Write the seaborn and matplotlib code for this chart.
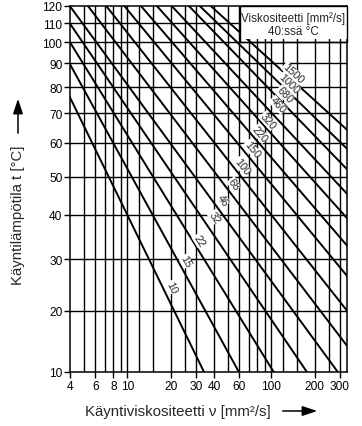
import numpy as np
import pandas as pd
import matplotlib
matplotlib.use("Agg")
import matplotlib.pyplot as plt
import matplotlib.patches as mpatches
import seaborn as sns

# ISO VG grades (viscosity at 40 C) and their viscosity at 100 C
grades = [10, 15, 22, 32, 46, 68, 100, 150, 220, 320, 460, 680, 1000, 1500]
visc_100 = [2.6, 3.3, 4.0, 4.9, 6.1, 8.3, 11.3, 15.4, 20.5, 27, 35, 47, 58, 72]
temp_ref = [40, 100]
# where each grade label sits (viscosity, temperature)
label_visc = [20.3, 25.5, 31.4, 40.3, 46.2, 55.0, 62.6, 73.4, 83.4, 94.8, 111.3, 124.5, 132.7, 141.5]
label_temp = [24.4, 29.6, 34.1, 39.5, 43.7, 47.9, 53.0, 58.1, 62.9, 67.3, 73.1, 77.2, 81.6, 85.8]

x_ticks = [4, 6, 8, 10, 20, 30, 40, 60, 100, 200, 300]
x_grid = [5, 6, 7, 8, 9, 10, 12, 15, 20, 25, 30, 40, 50, 60, 70, 80, 90, 100, 120, 150, 200, 250, 300]
y_ticks = [10, 20, 30, 40, 50, 60, 70, 80, 90, 100, 110, 120]

sns.set_theme(style="white")
plt.rcParams['font.family'] = ['Liberation Sans', 'DejaVu Sans']

fig = plt.figure(figsize=(3.62, 4.27), dpi=100)
ax = fig.add_axes([70/362, 1-372.7/427, (346.7-70)/362, (372.7-6.7)/427])

C = 100.0
fwd = lambda t: -1.0/(np.asarray(t, float)+C)
inv = lambda u: -1.0/np.asarray(u, float) - C
ax.set_xscale('log')
ax.set_yscale('function', functions=(fwd, inv))
ax.set_xlim(4, 334)
ax.set_ylim(10, 120)

def visc_at(g, v100, t):
    u1, u2 = fwd(temp_ref[0]), fwd(temp_ref[1])
    l1, l2 = np.log10(g), np.log10(v100)
    return 10**(l1 + (l2-l1)*(fwd(t)-u1)/(u2-u1))

ext = []
for g, v100 in zip(grades, visc_100):
    for t in [0, 200]:
        ext.append(dict(grade=str(g), temp=t, visc=visc_at(g, v100, t)))
ext = pd.DataFrame(ext)

for xv in x_grid:
    ax.axvline(xv, color='black', lw=1.0, zorder=1)
for yv in y_ticks[1:-1]:
    ax.axhline(yv, color='black', lw=1.0, zorder=1)

sns.lineplot(data=ext, x='visc', y='temp', units='grade', estimator=None,
             color='black', lw=1.4, ax=ax, sort=False, zorder=2, legend=False)

ax.set_xticks(x_ticks)
ax.set_xticklabels([str(v) for v in x_ticks])
ax.xaxis.set_minor_locator(matplotlib.ticker.NullLocator())
ax.set_yticks(y_ticks)
ax.set_yticklabels([str(v) for v in y_ticks])
ax.yaxis.set_minor_locator(matplotlib.ticker.NullLocator())
ax.tick_params(axis='both', which='major', length=4, width=1.0, color='black',
               labelsize=8.6, labelcolor='black', direction='out',
               bottom=True, left=True)
ax.tick_params(axis='x', pad=2)
ax.tick_params(axis='y', pad=1.5)
for s in ax.spines.values():
    s.set_color('black'); s.set_linewidth(1.1)
ax.set_xlabel(''); ax.set_ylabel('')

# grade labels beside their lines
for g, v100, lv, lt in zip(grades, visc_100, label_visc, label_temp):
    p1 = ax.transData.transform((visc_at(g, v100, lt-1), lt-1))
    p2 = ax.transData.transform((visc_at(g, v100, lt+1), lt+1))
    ang = np.degrees(np.arctan2(p2[1]-p1[1], p2[0]-p1[0])) + 180
    ax.text(lv, lt, str(g), rotation=ang, rotation_mode='anchor', ha='center',
            va='center', fontsize=7.8, zorder=3,
            bbox=dict(facecolor='white', edgecolor='none', pad=0.1))

# legend box top-right
bx0 = (240-70)/276.7
by0 = (372.7-43.3)/366
byf = (372.7-39.5)/366
ax.add_patch(mpatches.Rectangle((bx0, byf), 1-bx0, 1-byf, transform=ax.transAxes,
             facecolor='white', edgecolor='none', zorder=4, clip_on=False))
ax.add_patch(mpatches.Rectangle((bx0, by0), 1-bx0, 1-by0, transform=ax.transAxes,
             facecolor='none', edgecolor='black', lw=1.0, zorder=5, clip_on=False))
ax.text((bx0+1)/2, 1-(19-6.7)/366, 'Viskositeetti [mm²/s]', transform=ax.transAxes,
        ha='center', va='center', fontsize=8.4, zorder=6)
ax.text((bx0+1)/2, 1-(32-6.7)/366, '40:ssä °C', transform=ax.transAxes,
        ha='center', va='center', fontsize=8.4, zorder=6)

fig.text(18/362, 1-215/427, 'Käyntilämpötila t [°C]', rotation=90, fontsize=10.8,
         ha='center', va='center')
fig.text(178/362, 1-412/427, 'Käyntiviskositeetti ν [mm²/s]', fontsize=10.8,
         ha='center', va='center')
fig.add_artist(mpatches.FancyArrowPatch((18/362, 1-137/427), (18/362, 1-97/427),
               transform=fig.transFigure, arrowstyle='-|>,head_length=0.9,head_width=0.3',
               mutation_scale=10, color='black', lw=1.1))
fig.add_artist(mpatches.FancyArrowPatch((280/362, 1-412/427), (320/362, 1-412/427),
               transform=fig.transFigure, arrowstyle='-|>,head_length=0.9,head_width=0.3',
               mutation_scale=10, color='black', lw=1.1))

fig.savefig('out.png', dpi=100)
